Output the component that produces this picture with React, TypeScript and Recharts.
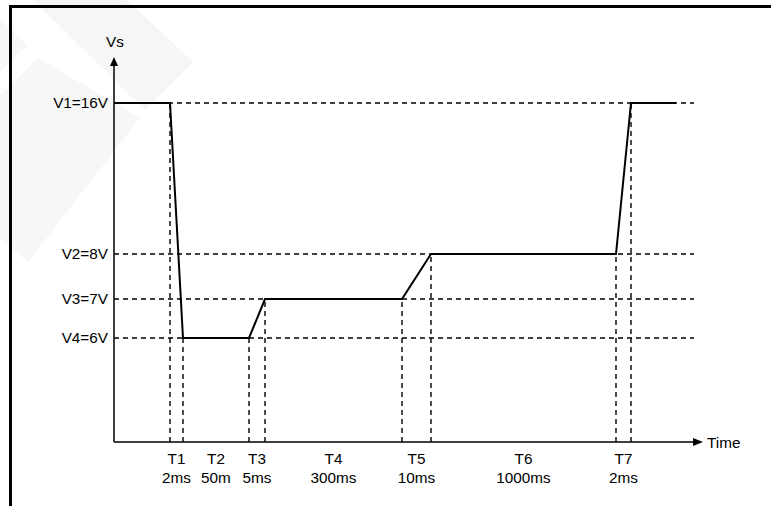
import React from 'react';
import { ComposedChart, Line, XAxis, YAxis, ReferenceLine } from 'recharts';

// Voltage levels (schematic heights above the time axis) and their labels
const levelNames = ['V1=16V', 'V2=8V', 'V3=7V', 'V4=6V'];
const levelHeights = [339, 188, 143, 104];

// Schematic time break points of the waveform and the level index at each point
const timeBreaks = [0, 56, 69, 135, 151, 288, 317, 502, 517, 562];
const signalLevelIndex = [0, 0, 3, 3, 2, 2, 1, 1, 0, 0];

// Interval labels (between consecutive inner break points)
const intervalNames = ['T1', 'T2', 'T3', 'T4', 'T5', 'T6', 'T7'];
const intervalDurations = ['2ms', '50m', '5ms', '300ms', '10ms', '1000ms', '2ms'];

// Axis extents (schematic units)
const xAxisEnd = 589;
const yAxisEnd = 385;
const guideEnd = 580;

const signalData = timeBreaks.map((t, i) => ({ x: t, y: levelHeights[signalLevelIndex[i]] }));
const innerBreaks = timeBreaks.slice(1, timeBreaks.length - 1);
const intervalMids = intervalNames.map((_, i) => (innerBreaks[i] + innerBreaks[i + 1]) / 2);

const FONT = '"Liberation Sans", Arial, sans-serif';
const FS = 15.3;

const IntervalTick = (props: any) => {
  const { x, y, index } = props;
  return (
    <text x={x} y={y} textAnchor="middle" fontSize={FS} fill="#000" fontFamily={FONT}>
      <tspan x={x} y={y + 22}>{intervalNames[index]}</tspan>
      <tspan x={x} y={y + 41}>{intervalDurations[index]}</tspan>
    </text>
  );
};

const XArrow = (props: any) => {
  const { x1, y1, x2 } = props;
  return (
    <g>
      <line x1={x1} y1={y1} x2={x2 - 8} y2={y1} stroke="#000" strokeWidth={1.5} />
      <polygon points={`${x2},${y1} ${x2 - 10},${y1 - 4} ${x2 - 10},${y1 + 4}`} fill="#000" />
      <text x={x2 + 4} y={y1 + 6} fontSize={FS} fill="#000" fontFamily={FONT}>Time</text>
    </g>
  );
};

const YArrow = (props: any) => {
  const { x1, y1, y2 } = props;
  const top = Math.min(y1, y2);
  const bottom = Math.max(y1, y2);
  return (
    <g>
      <line x1={x1} y1={bottom} x2={x1} y2={top + 7} stroke="#000" strokeWidth={1.5} />
      <polygon points={`${x1},${top} ${x1 - 4},${top + 9} ${x1 + 4},${top + 9}`} fill="#000" />
      <text x={x1 + 1} y={top - 10} textAnchor="middle" fontSize={FS} fill="#000" fontFamily={FONT}>Vs</text>
    </g>
  );
};

const Watermark = () => (
  <svg width={771} height={506} style={{ position: 'absolute', left: 0, top: 0 }}>
    <polygon points="33,0 127,0 193,62 145,110" fill="#f6f6f6" />
    <polygon points="0,95 38,58 140,118 28,262 0,238" fill="#f7f7f7" />
    <polygon points="0,20 28,45 0,72" fill="#f7f7f7" />
  </svg>
);

export default function App() {
  return (
    <div style={{ position: 'absolute', left: 0, top: 0, width: 771, height: 506, overflow: 'hidden', background: '#fff', fontFamily: FONT }}>
      <Watermark />
      <div style={{ position: 'absolute', left: 9, top: 5, width: 762, height: 501, borderTop: '3px solid #000', borderLeft: '3px solid #000', boxSizing: 'border-box' }} />
      <div style={{ position: 'absolute', left: 0, top: 0 }}>
        <ComposedChart width={771} height={506} data={signalData} margin={{ top: 57, right: 771 - 703, bottom: 0, left: 0 }}>
          <XAxis
            type="number"
            dataKey="x"
            domain={[0, xAxisEnd]}
            ticks={intervalMids}
            interval={0}
            tick={<IntervalTick />}
            axisLine={false}
            tickLine={false}
            tickSize={0}
            tickMargin={0}
            height={64}
          />
          <YAxis
            type="number"
            domain={[0, yAxisEnd]}
            ticks={levelHeights}
            interval={0}
            tickFormatter={(v: number) => levelNames[levelHeights.indexOf(v)]}
            axisLine={false}
            tickLine={false}
            tickSize={0}
            tickMargin={6}
            width={114}
            tick={{ fill: '#000', fontSize: FS, fontFamily: FONT }}
          />
          {levelHeights.map((h, i) => (
            <ReferenceLine
              key={'h' + i}
              segment={[{ x: 0, y: h }, { x: guideEnd, y: h }]}
              stroke="#000"
              strokeWidth={1.4}
              strokeDasharray="5 4"
              ifOverflow="visible"
            />
          ))}
          {innerBreaks.map((t, i) => (
            <ReferenceLine
              key={'v' + i}
              segment={[{ x: t, y: 0 }, { x: t, y: levelHeights[signalLevelIndex[i + 1]] }]}
              stroke="#000"
              strokeWidth={1.4}
              strokeDasharray="5 4"
              ifOverflow="visible"
            />
          ))}
          <ReferenceLine segment={[{ x: 0, y: 0 }, { x: xAxisEnd, y: 0 }]} shape={<XArrow />} ifOverflow="visible" />
          <ReferenceLine segment={[{ x: 0, y: 0 }, { x: 0, y: yAxisEnd }]} shape={<YArrow />} ifOverflow="visible" />
          <Line
            type="linear"
            dataKey="y"
            stroke="#000"
            strokeWidth={2}
            dot={false}
            activeDot={false}
            isAnimationActive={false}
          />
        </ComposedChart>
      </div>
    </div>
  );
}
